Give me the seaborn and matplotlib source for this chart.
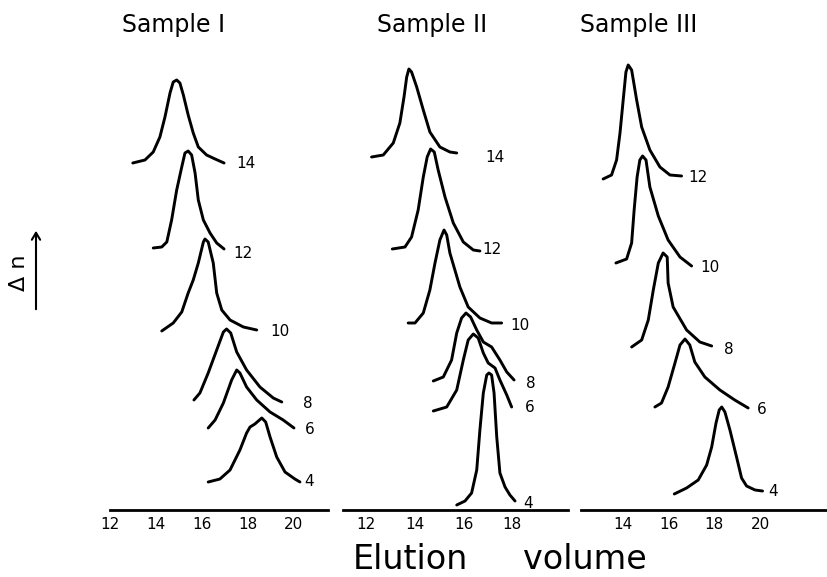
import numpy as np
import pandas as pd
import matplotlib
matplotlib.use("Agg")
import matplotlib.pyplot as plt
import seaborn as sns

# sample titles and fraction numbers (curve labels)
samples = ["Sample I", "Sample II", "Sample III"]
fractions_1 = [14, 12, 10, 8, 6, 4]
fractions_2 = [14, 12, 10, 8, 6, 4]
fractions_3 = [12, 10, 8, 6, 4]

# tick values on each elution axis
ticks_1 = [12, 14, 16, 18, 20]
ticks_2 = [12, 14, 16, 18]
ticks_3 = [14, 16, 18, 20]

# Sample I  (elution volume, delta n in arbitrary units incl. stacking offset)
s1_f14_vol = [12.99, 13.52, 13.88, 14.17, 14.39, 14.61, 14.75, 14.90, 15.04, 15.19, 15.40, 15.62, 15.84, 16.20, 16.57, 16.96]
s1_f14_dn = [34.7, 35.0, 35.8, 37.3, 39.3, 41.7, 42.8, 43.0, 42.7, 41.5, 39.5, 37.7, 36.3, 35.5, 35.1, 34.7]
s1_f12_vol = [13.88, 14.25, 14.47, 14.68, 14.90, 15.12, 15.26, 15.40, 15.55, 15.70, 15.84, 16.06, 16.35, 16.64, 16.96]
s1_f12_dn = [26.2, 26.3, 26.8, 29.0, 32.0, 34.3, 35.7, 35.9, 35.5, 33.7, 31.0, 29.0, 27.7, 26.7, 26.1]
s1_f10_vol = [14.25, 14.75, 15.12, 15.40, 15.62, 15.84, 16.06, 16.13, 16.27, 16.49, 16.64, 16.86, 17.22, 17.80, 18.38]
s1_f10_dn = [17.9, 18.7, 19.8, 21.7, 23.0, 24.7, 26.8, 27.1, 26.8, 24.7, 21.7, 20.0, 19.0, 18.3, 18.0]
s1_f8_vol = [15.65, 15.91, 16.27, 16.64, 16.93, 17.07, 17.25, 17.51, 17.94, 18.52, 19.10, 19.47]
s1_f8_dn = [11.0, 11.7, 13.7, 16.0, 17.8, 18.1, 17.7, 15.8, 14.0, 12.3, 11.2, 10.8]
s1_f6_vol = [16.27, 16.57, 16.93, 17.29, 17.51, 17.65, 17.94, 18.38, 18.96, 19.53, 20.00]
s1_f6_dn = [8.2, 9.0, 10.7, 13.0, 14.0, 13.7, 12.3, 11.0, 9.8, 9.0, 8.2]
s1_f4_vol = [16.27, 16.78, 17.22, 17.65, 17.94, 18.09, 18.30, 18.60, 18.77, 18.96, 19.25, 19.61, 20.04, 20.26]
s1_f4_dn = [2.8, 3.1, 4.0, 6.0, 7.7, 8.3, 8.6, 9.2, 8.8, 7.3, 5.3, 3.8, 3.1, 2.8]

# Sample II
s2_f14_vol = [12.23, 12.71, 13.12, 13.39, 13.56, 13.67, 13.76, 13.87, 14.08, 14.35, 14.62, 15.03, 15.44, 15.72]
s2_f14_dn = [35.3, 35.5, 36.7, 38.7, 41.3, 43.3, 44.1, 43.8, 42.3, 40.0, 37.8, 36.3, 35.8, 35.7]
s2_f12_vol = [13.08, 13.60, 13.87, 14.14, 14.35, 14.51, 14.65, 14.80, 14.96, 15.24, 15.58, 15.99, 16.40, 16.67]
s2_f12_dn = [26.1, 26.3, 27.3, 30.0, 33.3, 35.3, 36.1, 35.8, 34.0, 31.3, 28.7, 26.8, 26.0, 25.9]
s2_f10_vol = [13.73, 14.01, 14.35, 14.62, 14.83, 15.03, 15.20, 15.31, 15.44, 15.85, 16.19, 16.67, 17.15, 17.56]
s2_f10_dn = [18.7, 18.7, 19.7, 22.0, 24.7, 27.0, 28.0, 27.5, 25.7, 22.3, 20.3, 19.2, 18.7, 18.7]
s2_f8_vol = [14.76, 15.17, 15.51, 15.72, 15.92, 16.10, 16.29, 16.54, 16.81, 17.15, 17.49, 17.77, 18.07]
s2_f8_dn = [12.9, 13.3, 15.0, 17.7, 19.2, 19.7, 19.3, 18.0, 16.8, 16.3, 15.0, 13.8, 13.0]
s2_f6_vol = [14.76, 15.31, 15.72, 15.99, 16.19, 16.40, 16.60, 16.81, 17.01, 17.29, 17.49, 17.77, 17.97]
s2_f6_dn = [9.9, 10.3, 12.0, 15.0, 17.0, 17.6, 17.2, 15.7, 14.7, 14.2, 13.0, 11.5, 10.3]
s2_f4_vol = [15.72, 16.06, 16.33, 16.54, 16.67, 16.81, 16.95, 17.04, 17.15, 17.25, 17.36, 17.49, 17.70, 17.90, 18.11]
s2_f4_dn = [0.5, 0.9, 1.7, 4.0, 8.0, 11.7, 13.5, 13.7, 13.5, 11.7, 7.3, 3.7, 2.3, 1.5, 0.9]

# Sample III
s3_f12_vol = [13.12, 13.49, 13.71, 13.86, 14.00, 14.12, 14.22, 14.37, 14.59, 14.81, 15.17, 15.61, 16.05, 16.56]
s3_f12_dn = [33.1, 33.5, 35.0, 37.7, 41.0, 43.8, 44.5, 44.0, 41.0, 38.3, 36.0, 34.3, 33.5, 33.4]
s3_f10_vol = [13.68, 14.15, 14.37, 14.48, 14.61, 14.73, 14.85, 15.00, 15.17, 15.54, 15.97, 16.49, 17.00]
s3_f10_dn = [24.7, 25.1, 26.7, 30.0, 33.3, 35.0, 35.4, 35.0, 32.3, 29.4, 27.0, 25.3, 24.4]
s3_f8_vol = [14.37, 14.81, 15.10, 15.32, 15.54, 15.75, 15.93, 15.97, 16.19, 16.78, 17.36, 17.88]
s3_f8_dn = [16.3, 17.0, 19.0, 22.0, 24.7, 25.7, 25.3, 22.7, 20.3, 18.0, 16.8, 16.4]
s3_f6_vol = [15.39, 15.68, 15.97, 16.27, 16.49, 16.71, 16.92, 17.14, 17.58, 18.24, 18.89, 19.48]
s3_f6_dn = [10.3, 10.7, 12.3, 14.7, 16.5, 17.1, 16.5, 14.8, 13.3, 12.0, 11.0, 10.2]
s3_f4_vol = [16.24, 16.78, 17.29, 17.66, 17.88, 18.07, 18.21, 18.32, 18.46, 18.68, 18.97, 19.19, 19.41, 19.78, 20.11]
s3_f4_dn = [1.6, 2.2, 3.0, 4.5, 6.3, 8.7, 10.0, 10.3, 9.8, 8.0, 5.3, 3.2, 2.4, 2.0, 1.9]

curves = {
    "Sample I": [(14, s1_f14_vol, s1_f14_dn), (12, s1_f12_vol, s1_f12_dn), (10, s1_f10_vol, s1_f10_dn),
                 (8, s1_f8_vol, s1_f8_dn), (6, s1_f6_vol, s1_f6_dn), (4, s1_f4_vol, s1_f4_dn)],
    "Sample II": [(14, s2_f14_vol, s2_f14_dn), (12, s2_f12_vol, s2_f12_dn), (10, s2_f10_vol, s2_f10_dn),
                  (8, s2_f8_vol, s2_f8_dn), (6, s2_f6_vol, s2_f6_dn), (4, s2_f4_vol, s2_f4_dn)],
    "Sample III": [(12, s3_f12_vol, s3_f12_dn), (10, s3_f10_vol, s3_f10_dn), (8, s3_f8_vol, s3_f8_dn),
                   (6, s3_f6_vol, s3_f6_dn), (4, s3_f4_vol, s3_f4_dn)],
}

rows = []
for name, lst in curves.items():
    for frac, vol, dn in lst:
        for v, d in zip(vol, dn):
            rows.append({"sample": name, "fraction": frac, "volume": v, "dn": d})
df = pd.DataFrame(rows)

# where the fraction numbers sit (volume, dn)
label_at = {
    "Sample I": {14: (17.90, 34.6), 12: (17.80, 25.7), 10: (19.39, 17.8), 8: (20.62, 10.6), 6: (20.67, 8.0), 4: (20.67, 2.8)},
    "Sample II": {14: (17.29, 35.3), 12: (17.15, 26.0), 10: (18.31, 18.5), 8: (18.75, 12.7), 6: (18.72, 10.2), 4: (18.65, 0.7)},
    "Sample III": {12: (17.29, 33.3), 10: (17.80, 24.2), 8: (18.61, 16.1), 6: (20.07, 10.1), 4: (20.55, 1.9)},
}

sns.set_style("white")
plt.rcParams["text.color"] = "black"
plt.rcParams["xtick.color"] = "black"

W, H = 828, 577
fig = plt.figure(figsize=(W / 100, H / 100), dpi=100)

# panel layout in pixels: left, right of axis line, and x-limits
panels = [
    ("Sample I", 110, 328, (12.0, 21.48), ticks_1),
    ("Sample II", 343, 568, (11.06, 20.28), ticks_2),
    ("Sample III", 581, 828, (12.15, 22.98), ticks_3),
]
title_x = {"Sample I": 174, "Sample II": 432, "Sample III": 639}

for name, x0, x1, xlim, ticks in panels:
    ax = fig.add_axes([x0 / W, (H - 510) / H, (x1 - x0) / W, 470 / H])
    sub = df[df["sample"] == name]
    sns.lineplot(data=sub, x="volume", y="dn", units="fraction", estimator=None,
                 sort=False, color="black", lw=2.1, ax=ax, legend=False,
                 solid_joinstyle="round", solid_capstyle="round")
    for frac, (lx, ly) in label_at[name].items():
        ax.text(lx, ly, str(frac), ha="center", va="center", fontsize=11, color="black")
    ax.set_xlim(*xlim)
    ax.set_ylim(0, 47)
    ax.set_xticks(ticks)
    ax.set_xticklabels([str(t) for t in ticks], fontsize=11)
    ax.set_yticks([])
    ax.set_xlabel("")
    ax.set_ylabel("")
    for s in ["left", "right", "top"]:
        ax.spines[s].set_visible(False)
    ax.spines["bottom"].set_linewidth(2.0)
    ax.spines["bottom"].set_color("black")
    ax.tick_params(axis="x", direction="in", length=5, width=1.3, pad=5, colors="black")
    ax.patch.set_alpha(0)
    fig.text(title_x[name] / W, 1 - 32 / H, name, ha="center", va="baseline", fontsize=17, color="black")

# y label with arrow
fig.text(19 / W, 1 - 273 / H, "Δ n", rotation=90, ha="center", va="center", fontsize=16, color="black")
fig.add_artist(matplotlib.patches.FancyArrowPatch(
    (36 / W, 1 - 312 / H), (36 / W, 1 - 228 / H), transform=fig.transFigure,
    arrowstyle="->,head_length=5,head_width=3", lw=1.5, color="black"))

fig.text(353 / W, 1 - 569 / H, "Elution", ha="left", va="baseline", fontsize=24, color="black")
fig.text(523 / W, 1 - 569 / H, "volume", ha="left", va="baseline", fontsize=24, color="black")

fig.savefig("out.png", dpi=100)
